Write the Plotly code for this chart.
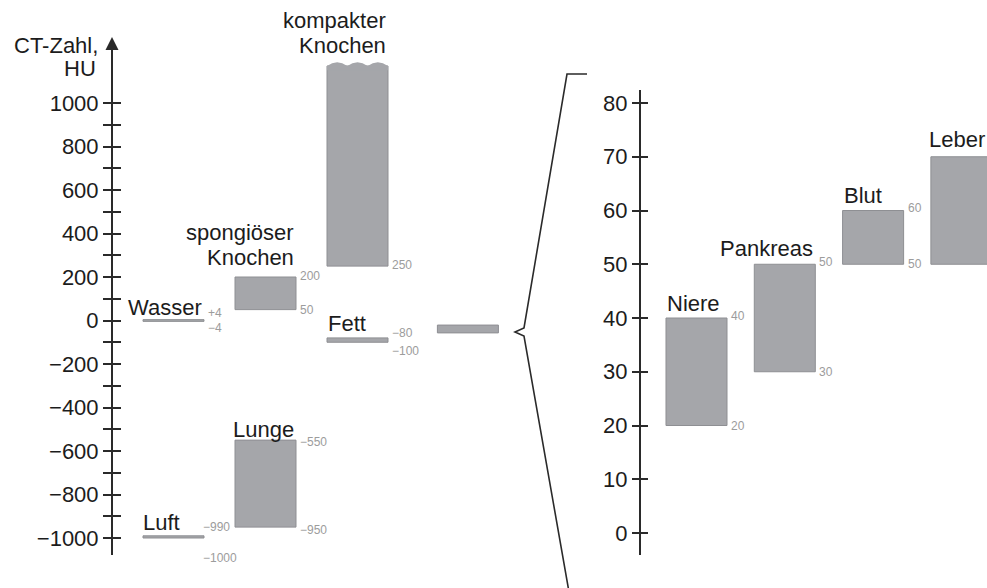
import plotly.graph_objects as go

W, H = 987, 588
FONT = "Liberation Sans, Arial, sans-serif"

# ---------------- data ----------------
# left scale (HU)
left_names = ["Luft", "Lunge", "Wasser", "Fett", "spongiöser<br>Knochen", "kompakter<br>Knochen"]
left_low = [-1000, -950, -4, -100, 50, 250]
left_high = [-990, -550, 4, -80, 200, 1170]
left_low_txt = ["−1000", "−950", "−4", "−100", "50", "250"]
left_high_txt = ["−990", "−550", "+4", "−80", "200", ""]
# small indicator bar next to "Fett" (zoomed section)
zoom_low = [-57]
zoom_high = [-21]

# right scale (HU, zoomed)
right_names = ["Niere", "Pankreas", "Blut", "Leber"]
right_low = [20, 30, 50, 50]
right_high = [40, 50, 60, 70]
right_low_txt = ["20", "30", "50", ""]
right_high_txt = ["40", "50", "60", ""]

left_tickvals = list(range(-1000, 1001, 100))
left_ticktext = [("−" + str(-v) if v < 0 else str(v)) if v % 200 == 0 else "" for v in left_tickvals]
right_tickvals = [0, 10, 20, 30, 40, 50, 60, 70, 80]
right_ticktext = [str(v) for v in right_tickvals]

# ---------------- layout constants ----------------
left_slot = [0, 1, 0, 2, 1, 2]
zoom_slot = [3.2]
right_slot = [0, 1, 2, 3]
left_bw = 0.663
right_bw = 0.691
left_align = ["left", "right", "right", "left", "right", "right"]
left_gap = [13, 11, 12, 14, 20, 21]
left_lab_xshift = [-2, 0, 0, -1, 0, 0]
right_align = ["left", "right", "left", "left"]
right_gap = [15, 16, 15, 17]
right_lab_xshift = [-1, 0, -1, -4]
left_hi_shift = [9, -2, 7, 5, 1, 0]
left_lo_shift = [-20, -3, -7, -9, 0, 1]
left_num_xshift = [-3, 2, 2, 2, 2, 2]

BAR = "#a5a6aa"
EDGE = "#8e8f93"
TXT = "#1c1c1c"
AX = "#2a2a2a"
SMALL = "#9c9c9c"

fig = go.Figure()

fig.add_trace(go.Bar(
    x=left_slot, y=[h - l for h, l in zip(left_high, left_low)], base=left_low,
    width=left_bw, xaxis="x", yaxis="y",
    marker=dict(color=BAR, line=dict(color=EDGE, width=1)), hoverinfo="skip"))
fig.add_trace(go.Bar(
    x=zoom_slot, y=[h - l for h, l in zip(zoom_high, zoom_low)], base=zoom_low,
    width=left_bw, xaxis="x", yaxis="y",
    marker=dict(color=BAR, line=dict(color=EDGE, width=1)), hoverinfo="skip"))
fig.add_trace(go.Bar(
    x=right_slot, y=[h - l for h, l in zip(right_high, right_low)], base=right_low,
    width=right_bw, xaxis="x2", yaxis="y2",
    marker=dict(color=BAR, line=dict(color=EDGE, width=1)), hoverinfo="skip"))
# empty traces so the overlay axes (right half of the crossing ticks) are drawn
fig.add_trace(go.Scatter(x=[None], y=[None], xaxis="x", yaxis="y3", mode="markers",
                         showlegend=False, hoverinfo="skip"))
fig.add_trace(go.Scatter(x=[None], y=[None], xaxis="x2", yaxis="y4", mode="markers",
                         showlegend=False, hoverinfo="skip"))

ann = []
shapes = []


def add_labels(names, slots, highs, bw, align, gaps, xshifts, xref, yref):
    for name, s, hi, al, g, xs in zip(names, slots, highs, align, gaps, xshifts):
        lines = name.split("<br>")
        if al == "left":
            xa, xv = "left", s - bw / 2
        else:
            xa, xv = "right", s + bw / 2
        n = len(lines)
        for i, t in enumerate(lines):
            ann.append(dict(x=xv, y=hi, xref=xref, yref=yref, text=t, showarrow=False,
                            xanchor=xa, yanchor="middle", xshift=xs,
                            yshift=g + (n - 1 - i) * 25,
                            font=dict(family=FONT, size=22, color=TXT)))


add_labels(left_names, left_slot, left_high, left_bw, left_align, left_gap, left_lab_xshift, "x", "y")
add_labels(right_names, right_slot, right_high, right_bw, right_align, right_gap, right_lab_xshift, "x2", "y2")

# small value labels
for s, lo, hi, lt, ht, hs, ls, xs in zip(left_slot, left_low, left_high, left_low_txt, left_high_txt,
                                         left_hi_shift, left_lo_shift, left_num_xshift):
    for val, txt, sh in ((hi, ht, hs), (lo, lt, ls)):
        if txt:
            ann.append(dict(x=s + left_bw / 2, y=val, xref="x", yref="y", text=txt, showarrow=False,
                            xanchor="left", yanchor="middle", xshift=xs, yshift=sh,
                            font=dict(family=FONT, size=12, color=SMALL)))
for s, lo, hi, lt, ht in zip(right_slot, right_low, right_high, right_low_txt, right_high_txt):
    for val, txt, sh in ((hi, ht, 2), (lo, lt, 0)):
        if txt:
            ann.append(dict(x=s + right_bw / 2, y=val, xref="x2", yref="y2", text=txt, showarrow=False,
                            xanchor="left", yanchor="middle", xshift=2, yshift=sh,
                            font=dict(family=FONT, size=12, color=SMALL)))

# wavy top of the compact bone bar
kb = left_slot[5]
top = left_high[5]
xl, xr = kb - left_bw / 2, kb + left_bw / 2
step = (xr - xl) / 3
path = f"M {xl},{top - 20} L {xl},{top}"
for i in range(3):
    a = xl + i * step
    path += f" Q {a + step / 2},{top + 34} {a + step},{top}"
path += f" L {xr},{top - 20} Z"
shapes.append(dict(type="path", xref="x", yref="y", path=path, fillcolor=BAR,
                   line=dict(width=0), layer="above"))

# curly bracket (decoration) in pixel space -> paper
brace_px = [(587, 74), (567, 74), (524, 328), (515, 332), (524, 336), (569, 592), (590, 592)]
bp = " ".join(("M" if i == 0 else "L") + f" {x / W},{(H - y) / H}" for i, (x, y) in enumerate(brace_px))
shapes.append(dict(type="path", xref="paper", yref="paper", path=bp,
                   line=dict(color=AX, width=1.6)))

# axis title
ann.append(dict(x=100 / W, y=(H - 46) / H, xref="paper", yref="paper", text="CT-Zahl,",
                showarrow=False, xanchor="right", yanchor="middle",
                font=dict(family=FONT, size=22, color=TXT)))
ann.append(dict(x=98 / W, y=(H - 68) / H, xref="paper", yref="paper", text="HU",
                showarrow=False, xanchor="right", yanchor="middle",
                font=dict(family=FONT, size=22, color=TXT)))
# arrow head at top of the left axis
ann.append(dict(x=112 / W, y=(H - 37) / H, xref="paper", yref="paper", text="",
                showarrow=True, ax=0, ay=20, arrowhead=2, arrowsize=1.3, arrowwidth=2,
                arrowcolor=AX))

LX = 112 / W
RX = 640 / W
yl_range = [-(555 - 320.5) / 0.2175, (320.5 - 40) / 0.2175]
yr_range = [-(555 - 533) / 5.375, (533 - 90) / 5.375]
yl_dom = [33 / H, 548 / H]
yr_dom = [33 / H, (H - 90) / H]

tickfont = dict(family=FONT, size=22, color=TXT)
common = dict(showgrid=False, zeroline=False, fixedrange=True, tickwidth=2, tickcolor=AX)

fig.update_layout(
    width=W, height=H, autosize=False,
    margin=dict(l=0, r=0, t=0, b=0),
    paper_bgcolor="white", plot_bgcolor="rgba(0,0,0,0)",
    showlegend=False, barmode="overlay",
    xaxis=dict(domain=[0, 1], range=[-173.5 / 92, (W - 173.5) / 92], visible=False, anchor="y"),
    xaxis2=dict(domain=[0, 1], range=[-696.5 / 88.3, (W - 696.5) / 88.3], visible=False, anchor="y2"),
    yaxis=dict(domain=yl_dom, range=yl_range, anchor="free", position=LX, side="left",
               showline=True, linecolor=AX, linewidth=2, ticks="outside", ticklen=8,
               tickmode="array", tickvals=left_tickvals, ticktext=left_ticktext,
               tickfont=tickfont, **common),
    yaxis3=dict(range=yl_range, overlaying="y", anchor="free", position=LX, side="right",
                showline=False, ticks="outside", ticklen=8, showticklabels=False,
                tickmode="array", tickvals=left_tickvals, **common),
    yaxis2=dict(domain=yr_dom, range=yr_range, anchor="free", position=RX, side="left",
                showline=True, linecolor=AX, linewidth=2, ticks="outside", ticklen=7,
                tickmode="array", tickvals=right_tickvals, ticktext=right_ticktext,
                tickfont=tickfont, **common),
    yaxis4=dict(range=yr_range, overlaying="y2", anchor="free", position=RX, side="right",
                showline=False, ticks="outside", ticklen=7, showticklabels=False,
                tickmode="array", tickvals=right_tickvals, **common),
    annotations=ann,
    shapes=shapes,
)

fig.write_html("out.html", config={"displayModeBar": False},
               post_script="document.body.style.margin='0';document.body.style.overflow='hidden';")
